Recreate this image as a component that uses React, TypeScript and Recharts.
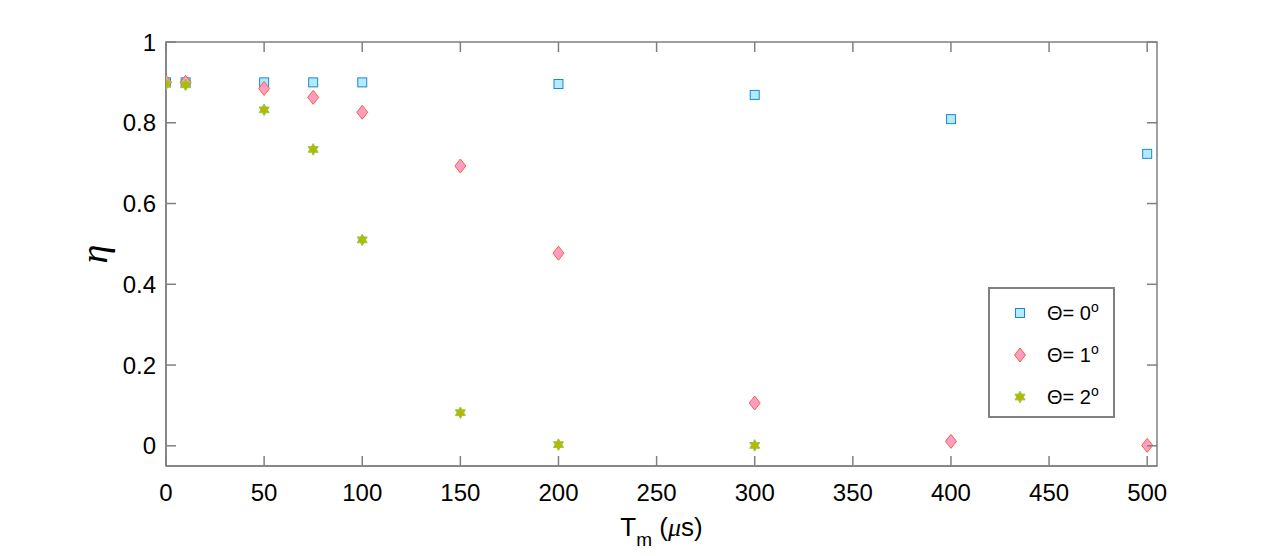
import { ScatterChart, Scatter, XAxis, YAxis, Label, ReferenceArea } from "recharts"

// measurement times (µs) and efficiency per tilt angle
const times0 = [0, 10, 50, 75, 100, 200, 300, 400, 500]
const eta0 = [0.9, 0.9, 0.9, 0.9, 0.9, 0.896, 0.869, 0.809, 0.723]

const times1 = [0, 10, 50, 75, 100, 150, 200, 300, 400, 500]
const eta1 = [0.9, 0.9, 0.885, 0.863, 0.826, 0.693, 0.477, 0.106, 0.011, 0.001]

const times2 = [0, 10, 50, 75, 100, 150, 200, 300]
const eta2 = [0.896, 0.894, 0.832, 0.734, 0.51, 0.082, 0.003, 0.001]

const xTicks = [0, 50, 100, 150, 200, 250, 300, 350, 400, 450, 500]
const yTicks = [0, 0.2, 0.4, 0.6, 0.8, 1]

const seriesNames = ["0", "1", "2"]

const AXIS = "#808080"
const FONT = "'Liberation Sans', Arial, Helvetica, sans-serif"

// plot box (px)
const PLOT_TOP = 42
const PLOT_RIGHT = 1157
const TICK = 10

const toPoints = (xs: number[], ys: number[]) => xs.map((x, i) => ({ x, y: ys[i] }))

function Square({ cx, cy }: any) {
  return <rect x={cx - 4.5} y={cy - 4.5} width={9} height={9} fill="#b3ebfc" stroke="#1b87d8" strokeWidth={1} />
}

function Diamond({ cx, cy }: any) {
  const pts = `${cx},${cy - 7} ${cx + 5.5},${cy} ${cx},${cy + 7} ${cx - 5.5},${cy}`
  return <polygon points={pts} fill="#ff9cc4" stroke="#f2653c" strokeWidth={1} />
}

function Hexagram({ cx, cy }: any) {
  const pts: string[] = []
  for (let i = 0; i < 12; i++) {
    const r = i % 2 === 0 ? 5.8 : 3.3
    const a = (Math.PI / 6) * i - Math.PI / 2
    pts.push(`${cx + r * Math.cos(a)},${cy + r * Math.sin(a)}`)
  }
  return <polygon points={pts.join(" ")} fill="#b6b800" stroke="#8fcc4a" strokeWidth={1} />
}

const shapes = [Square, Diamond, Hexagram]

function LegendBox() {
  return (
    <div
      style={{
        position: "absolute",
        left: 988,
        top: 287,
        width: 127,
        height: 131,
        border: `2px solid ${AXIS}`,
        background: "#fff",
        fontFamily: FONT,
        fontSize: 20,
        color: "#000",
        boxSizing: "border-box",
      }}
    >
      {seriesNames.map((n, i) => {
        const Shape = shapes[i]
        return (
          <div key={n} style={{ position: "absolute", left: 0, top: 12 + i * 42, height: 24, width: 125 }}>
            <svg width={24} height={24} style={{ position: "absolute", left: 18, top: 0 }}>
              <Shape cx={12} cy={12} />
            </svg>
            <span style={{ position: "absolute", left: 57, top: 0, lineHeight: "24px", whiteSpace: "nowrap" }}>
              Θ= {n}
              <span style={{ fontSize: 14, position: "relative", top: -8 }}>o</span>
            </span>
          </div>
        )
      })}
    </div>
  )
}

function XTick({ x, y, payload }: any) {
  return (
    <g>
      <line x1={x} y1={PLOT_TOP} x2={x} y2={PLOT_TOP + TICK} stroke={AXIS} strokeWidth={1.5} />
      <text x={x} y={y} dy="0.71em" textAnchor="middle" fontSize={24} fill="#000" fontFamily={FONT}>
        {payload.value}
      </text>
    </g>
  )
}

function YTick({ x, y, payload }: any) {
  return (
    <g>
      <line x1={PLOT_RIGHT - TICK} y1={y} x2={PLOT_RIGHT} y2={y} stroke={AXIS} strokeWidth={1.5} />
      <text x={x} y={y} dy="0.355em" textAnchor="end" fontSize={24} fill="#000" fontFamily={FONT}>
        {payload.value}
      </text>
    </g>
  )
}

function XTitle({ viewBox }: any) {
  const cx = viewBox.x + viewBox.width / 2
  const y = viewBox.y + 70
  return (
    <text x={cx} y={y} textAnchor="middle" fontFamily={FONT} fontSize={26} fill="#000">
      <tspan>T</tspan>
      <tspan fontSize={19} dy={10}>m</tspan>
      <tspan dy={-10}> (</tspan>
      <tspan fontFamily="'Liberation Serif', serif" fontStyle="italic">μ</tspan>
      <tspan>s)</tspan>
    </text>
  )
}

function YTitle({ viewBox }: any) {
  const x = 107
  const y = viewBox.y + viewBox.height / 2
  return (
    <text
      x={x}
      y={y}
      textAnchor="middle"
      transform={`rotate(-90 ${x} ${y})`}
      fontFamily="'Liberation Serif', serif"
      fontStyle="italic"
      fontSize={38}
      fill="#000"
    >
      η
    </text>
  )
}

export default function App() {
  return (
    <div style={{ position: "absolute", left: 0, top: 0, width: 1280, height: 556, background: "#fff" }}>
      <ScatterChart width={1280} height={556} margin={{ top: PLOT_TOP, right: 1280 - PLOT_RIGHT, bottom: 0, left: 0 }}>
        <ReferenceArea x1={0} x2={505} y1={-0.05} y2={1} fill="none" stroke={AXIS} strokeWidth={1.5} />
        <XAxis
          dataKey="x"
          type="number"
          domain={[0, 505]}
          ticks={xTicks}
          height={90}
          tickSize={-TICK}
          tickMargin={28}
          tick={<XTick />}
          stroke={AXIS}
          strokeWidth={1.5}
          tickLine={{ stroke: AXIS, strokeWidth: 1.5 }}
          allowDataOverflow
        >
          <Label content={<XTitle />} />
        </XAxis>
        <YAxis
          dataKey="y"
          type="number"
          domain={[-0.05, 1]}
          ticks={yTicks}
          width={166}
          tickSize={-TICK}
          tickMargin={20}
          tick={<YTick />}
          stroke={AXIS}
          strokeWidth={1.5}
          tickLine={{ stroke: AXIS, strokeWidth: 1.5 }}
          allowDataOverflow
        >
          <Label content={<YTitle />} />
        </YAxis>
        <Scatter name="Θ= 0" data={toPoints(times0, eta0)} shape={<Square />} isAnimationActive={false} />
        <Scatter name="Θ= 1" data={toPoints(times1, eta1)} shape={<Diamond />} isAnimationActive={false} />
        <Scatter name="Θ= 2" data={toPoints(times2, eta2)} shape={<Hexagram />} isAnimationActive={false} />
      </ScatterChart>
      <LegendBox />
    </div>
  )
}
